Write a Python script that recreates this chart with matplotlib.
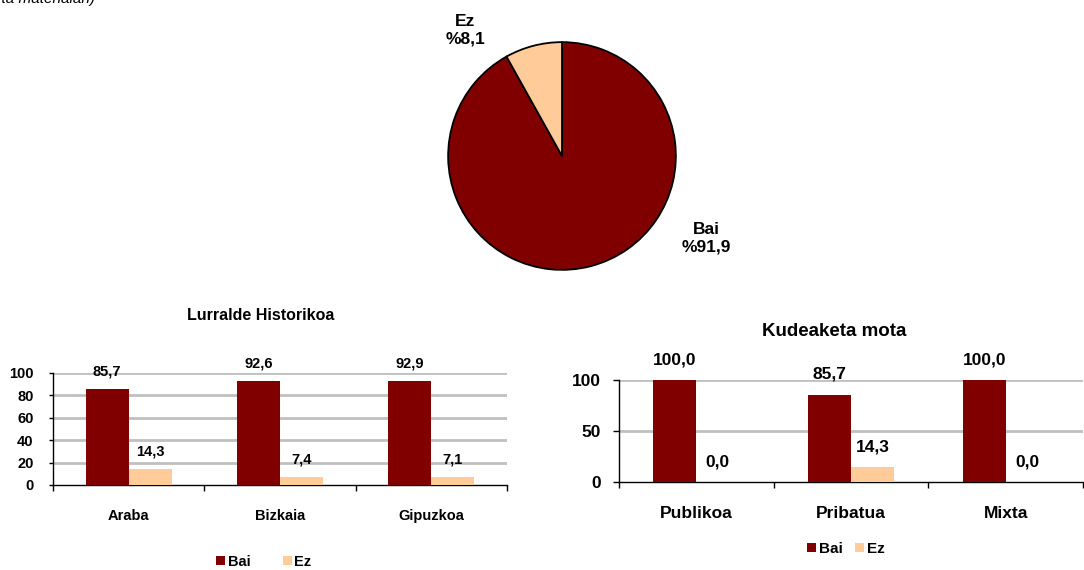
import matplotlib
matplotlib.use("Agg")
import matplotlib.pyplot as plt
import numpy as np

plt.rcParams['font.family'] = ['Liberation Sans', 'DejaVu Sans']
plt.rcParams['font.weight'] = 'bold'

# ---- data ----
pie_labels = ["Bai", "Ez"]
pie_values = [91.9, 8.1]

series_names = ["Bai", "Ez"]

lurralde_title = "Lurralde Historikoa"
lurralde_cats = ["Araba", "Bizkaia", "Gipuzkoa"]
lurralde_bai = [85.7, 92.6, 92.9]
lurralde_ez = [14.3, 7.4, 7.1]
lurralde_yticks = [0, 20, 40, 60, 80, 100]

kudeaketa_title = "Kudeaketa mota"
kudeaketa_cats = ["Publikoa", "Pribatua", "Mixta"]
kudeaketa_bai = [100.0, 85.7, 100.0]
kudeaketa_ez = [0.0, 14.3, 0.0]
kudeaketa_yticks = [0, 50, 100]

BAI_COLOR = "#800000"
EZ_COLOR = "#FFCC99"
GRID_COLOR = "#C0C0C0"

W, H = 1084, 570
fig = plt.figure(figsize=(W / 100, H / 100), dpi=100)


def px_axes(x0, y_top, x1, y_bottom):
    return fig.add_axes([x0 / W, (H - y_bottom) / H, (x1 - x0) / W, (y_bottom - y_top) / H])


def fmt(v):
    return f"{v:.1f}".replace(".", ",")


# clipped text at top-left
fig.text(95 / W, 1 - 3 / H, "eta materialan)", ha="right", va="baseline",
         fontsize=11, style="italic", fontweight="normal")

# ---- pie ----
axp = px_axes(447, 41, 677, 271)
axp.pie(pie_values, colors=[BAI_COLOR, EZ_COLOR], startangle=90, counterclock=False,
        wedgeprops=dict(edgecolor="black", linewidth=1.3), radius=1.0)
axp.set_xlim(-1.01, 1.01)
axp.set_ylim(-1.01, 1.01)
axp.set_aspect("auto")
axp.axis("off")
axp.text(-0.85, 1.105, f"{pie_labels[1]}\n%{fmt(pie_values[1])}", ha="center", va="center",
         fontsize=12.5, fontweight="bold", linespacing=1.2, clip_on=False)
axp.text(1.27, -0.72, f"{pie_labels[0]}\n%{fmt(pie_values[0])}", ha="center", va="center",
         fontsize=12.5, fontweight="bold", linespacing=1.2, clip_on=False)


def bar_chart(ax, cats, bai, ez, yticks, width, tick_fs, cat_fs, lab_fs, lab_off,
              ypad, xpad, ytick_len):
    x = np.arange(len(cats))
    ax.bar(x - width / 2, bai, width, color=BAI_COLOR, zorder=3, label=series_names[0])
    ax.bar(x + width / 2, ez, width, color=EZ_COLOR, zorder=3, label=series_names[1])
    for xi, v in zip(x - width / 2, bai):
        ax.annotate(fmt(v), (xi, v), xytext=(0, lab_off), textcoords="offset points",
                    ha="center", va="center", fontsize=lab_fs, fontweight="bold",
                    annotation_clip=False)
    for xi, v in zip(x + width / 2, ez):
        ax.annotate(fmt(v), (xi, v), xytext=(0, lab_off), textcoords="offset points",
                    ha="center", va="center", fontsize=lab_fs, fontweight="bold",
                    annotation_clip=False)
    ax.set_xlim(-0.5, len(cats) - 0.5)
    ax.set_ylim(0, yticks[-1])
    ax.set_yticks(yticks)
    ax.set_yticklabels([str(t) for t in yticks], fontsize=tick_fs, fontweight="bold")
    ax.set_xticks(np.arange(len(cats) + 1) - 0.5)
    ax.set_xticklabels([])
    ax.set_xticks(x, minor=True)
    ax.set_xticklabels(cats, minor=True, fontsize=cat_fs, fontweight="bold")
    ax.tick_params(axis="x", which="minor", length=0, pad=xpad)
    ax.tick_params(axis="x", which="major", length=4, width=1, direction="out")
    ax.tick_params(axis="y", length=ytick_len, width=1, direction="out", pad=ypad)
    for t in yticks[1:]:
        ax.axhline(t, color=GRID_COLOR, linewidth=2, zorder=1)
    ax.spines["top"].set_visible(False)
    ax.spines["right"].set_visible(False)
    ax.spines["left"].set_linewidth(1)
    ax.spines["bottom"].set_linewidth(1)
    ax.set_facecolor("none")


# ---- left bar chart ----
axl = px_axes(53, 373, 507, 485)
bar_chart(axl, lurralde_cats, lurralde_bai, lurralde_ez, lurralde_yticks,
          0.285, 10.5, 10.5, 10.5, 12.5, 11, 17, 3)
fig.text(261 / W, 1 - 315 / H, lurralde_title, ha="center", va="center",
         fontsize=11.5, fontweight="bold")
fig.legend(*axl.get_legend_handles_labels(), loc="center", bbox_to_anchor=(264 / W, 1 - 562 / H),
           ncol=2, frameon=False, handlelength=0.6, handleheight=0.6,
           handletextpad=0.2, columnspacing=2.2, prop=dict(weight="bold", size=10.5))

# ---- right bar chart ----
axr = px_axes(619, 380, 1083, 482)
bar_chart(axr, kudeaketa_cats, kudeaketa_bai, kudeaketa_ez, kudeaketa_yticks,
          0.278, 12.5, 12.5, 12.5, 14.5, 9, 17, 4)
fig.text(834 / W, 1 - 332 / H, kudeaketa_title, ha="center", va="center",
         fontsize=13.5, fontweight="bold")
fig.legend(*axr.get_legend_handles_labels(), loc="center", bbox_to_anchor=(846 / W, 1 - 549 / H),
           ncol=2, frameon=False, handlelength=0.6, handleheight=0.6,
           handletextpad=0.2, columnspacing=0.8, prop=dict(weight="bold", size=11))

fig.savefig("out.png", dpi=100)
